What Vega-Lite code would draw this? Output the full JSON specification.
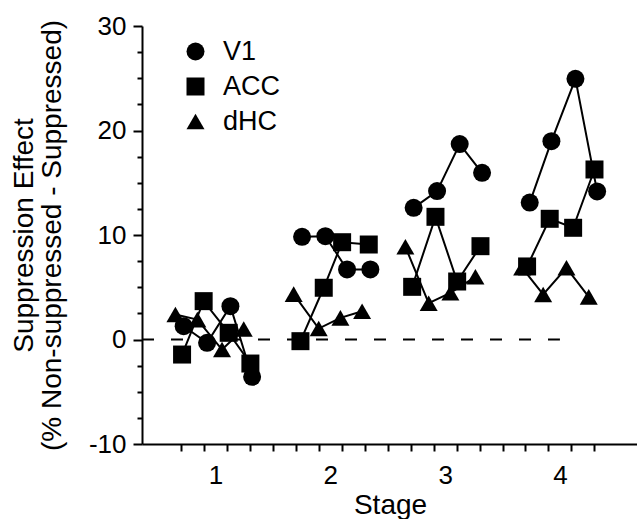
{
  "$schema": "https://vega.github.io/schema/vega-lite/v6.json",
  "width": 496,
  "height": 418,
  "autosize": {"type": "none"},
  "padding": {"left": 142, "top": 26, "right": 0, "bottom": 75},
  "background": "white",
  "config": {
    "font": "Liberation Sans",
    "view": {"stroke": null},
    "axis": {
      "grid": false,
      "domainColor": "black",
      "domainWidth": 2,
      "tickColor": "black",
      "tickWidth": 2,
      "labelColor": "black",
      "titleColor": "black",
      "labelFontSize": 26,
      "titleFontSize": 28,
      "titleFontWeight": "normal",
      "labelOverlap": false,
      "labelFlush": false
    }
  },
  "data": {
    "values": [
      {"series": "V1", "stage": 1, "x": 0.723, "y": 1.27},
      {"series": "V1", "stage": 1, "x": 0.927, "y": -0.32},
      {"series": "V1", "stage": 1, "x": 1.13, "y": 3.19},
      {"series": "V1", "stage": 1, "x": 1.319, "y": -3.57},
      {"series": "V1", "stage": 2, "x": 1.754, "y": 9.83},
      {"series": "V1", "stage": 2, "x": 1.957, "y": 9.89},
      {"series": "V1", "stage": 2, "x": 2.146, "y": 6.7},
      {"series": "V1", "stage": 2, "x": 2.349, "y": 6.7},
      {"series": "V1", "stage": 3, "x": 2.726, "y": 12.6},
      {"series": "V1", "stage": 3, "x": 2.93, "y": 14.2},
      {"series": "V1", "stage": 3, "x": 3.127, "y": 18.7},
      {"series": "V1", "stage": 3, "x": 3.322, "y": 15.95},
      {"series": "V1", "stage": 4, "x": 3.737, "y": 13.1},
      {"series": "V1", "stage": 4, "x": 3.926, "y": 18.98},
      {"series": "V1", "stage": 4, "x": 4.135, "y": 24.95},
      {"series": "V1", "stage": 4, "x": 4.324, "y": 14.17},
      {"series": "ACC", "stage": 1, "x": 0.709, "y": -1.44},
      {"series": "ACC", "stage": 1, "x": 0.897, "y": 3.67},
      {"series": "ACC", "stage": 1, "x": 1.115, "y": 0.64},
      {"series": "ACC", "stage": 1, "x": 1.304, "y": -2.3},
      {"series": "ACC", "stage": 2, "x": 1.74, "y": -0.16},
      {"series": "ACC", "stage": 2, "x": 1.943, "y": 4.95},
      {"series": "ACC", "stage": 2, "x": 2.103, "y": 9.31},
      {"series": "ACC", "stage": 2, "x": 2.335, "y": 9.09},
      {"series": "ACC", "stage": 3, "x": 2.713, "y": 5.04},
      {"series": "ACC", "stage": 3, "x": 2.916, "y": 11.74},
      {"series": "ACC", "stage": 3, "x": 3.105, "y": 5.55},
      {"series": "ACC", "stage": 3, "x": 3.308, "y": 8.93},
      {"series": "ACC", "stage": 4, "x": 3.714, "y": 6.99},
      {"series": "ACC", "stage": 4, "x": 3.911, "y": 11.55},
      {"series": "ACC", "stage": 4, "x": 4.115, "y": 10.69},
      {"series": "ACC", "stage": 4, "x": 4.301, "y": 16.27},
      {"series": "dHC", "stage": 1, "x": 0.651, "y": 2.4},
      {"series": "dHC", "stage": 1, "x": 0.842, "y": 1.9},
      {"series": "dHC", "stage": 1, "x": 1.057, "y": -0.96},
      {"series": "dHC", "stage": 1, "x": 1.246, "y": 1.0},
      {"series": "dHC", "stage": 2, "x": 1.681, "y": 4.34},
      {"series": "dHC", "stage": 2, "x": 1.899, "y": 1.05},
      {"series": "dHC", "stage": 2, "x": 2.088, "y": 2.07},
      {"series": "dHC", "stage": 2, "x": 2.277, "y": 2.71},
      {"series": "dHC", "stage": 3, "x": 2.654, "y": 8.87},
      {"series": "dHC", "stage": 3, "x": 2.857, "y": 3.47},
      {"series": "dHC", "stage": 3, "x": 3.046, "y": 4.47},
      {"series": "dHC", "stage": 3, "x": 3.264, "y": 6.0},
      {"series": "dHC", "stage": 4, "x": 3.671, "y": 6.86},
      {"series": "dHC", "stage": 4, "x": 3.854, "y": 4.31},
      {"series": "dHC", "stage": 4, "x": 4.057, "y": 6.86},
      {"series": "dHC", "stage": 4, "x": 4.251, "y": 4.08}
    ]
  },
  "encoding": {
    "x": {
      "field": "x", "type": "quantitative",
      "scale": {"domain": [0.36, 4.68], "nice": false, "zero": false},
      "axis": {
        "title": "Stage",
        "values": [0.7, 0.9, 1.1, 1.3, 1.5, 1.7, 1.9, 2.1, 2.3, 2.5, 2.7, 2.9, 3.1, 3.3, 3.5, 3.7, 3.9, 4.1, 4.3],
        "labelExpr": "abs(datum.value - floor(datum.value) - 0.9) < 0.01 ? toString(round(datum.value)) : ''",
        "labelOffset": 11.5,
        "ticks": true,
        "tickColor": "black",
        "tickOpacity": 1,
        "tickWidth": 2,
        "tickSize": 7,
        "labelPadding": 11,
        "titlePadding": 3
      }
    },
    "y": {
      "field": "y", "type": "quantitative",
      "scale": {"domain": [-10, 30], "nice": false, "zero": false},
      "axis": {
        "title": ["Suppression Effect", "(% Non-suppressed - Suppressed)"],
        "values": [-10, -7.5, -5, -2.5, 0, 2.5, 5, 7.5, 10, 12.5, 15, 17.5, 20, 22.5, 25, 27.5, 30],
        "labelExpr": "datum.value % 10 == 0 ? toString(datum.value) : ''",
        "tickSize": {"condition": {"test": "datum.value % 10 == 0", "value": 9}, "value": 5},
        "labelPadding": 7,
        "titlePadding": 22,
        "titleLineHeight": 28
      }
    }
  },
  "layer": [
    {
      "data": {"values": [{"x": 0.36, "xe": 4.0, "y": 0}]},
      "mark": {"type": "rule", "color": "black", "strokeWidth": 2, "strokeDash": [12, 17]},
      "encoding": {
        "x2": {"field": "xe"}
      }
    },
    {
      "mark": {"type": "line", "color": "black", "strokeWidth": 2},
      "encoding": {
        "detail": [{"field": "series"}, {"field": "stage"}],
        "order": {"field": "x", "type": "quantitative"}
      }
    },
    {
      "mark": {"type": "point", "filled": true, "color": "black", "opacity": 1, "strokeWidth": 0},
      "encoding": {
        "shape": {
          "field": "series", "type": "nominal",
          "scale": {"domain": ["V1", "ACC", "dHC"], "range": ["circle", "square", "triangle-up"]},
          "legend": {
            "orient": "none", "legendX": 40, "legendY": 12, "title": null,
            "labelFontSize": 27, "labelColor": "black",
            "symbolFillColor": "black", "symbolStrokeWidth": 0, "symbolOpacity": 1,
            "rowPadding": 7, "labelOffset": 14, "padding": 0
          }
        },
        "size": {
          "field": "series", "type": "nominal",
          "scale": {"domain": ["V1", "ACC", "dHC"], "range": [324, 324, 420]},
          "legend": {
            "orient": "none", "legendX": 40, "legendY": 12, "title": null,
            "labelFontSize": 27, "labelColor": "black",
            "symbolFillColor": "black", "symbolStrokeWidth": 0, "symbolOpacity": 1,
            "rowPadding": 7, "labelOffset": 14, "padding": 0
          }
        }
      }
    }
  ]
}
